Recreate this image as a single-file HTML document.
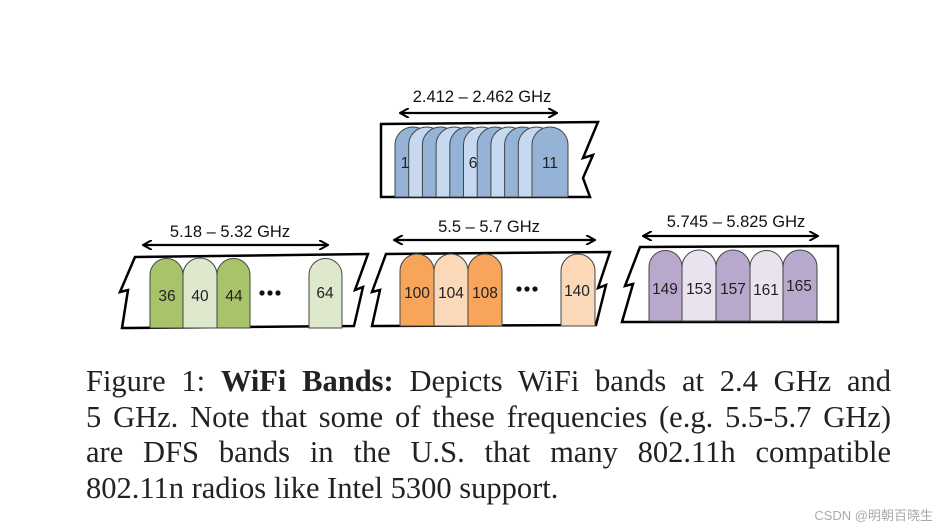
<!DOCTYPE html>
<html><head><meta charset="utf-8"><style>
body{margin:0;background:#fff;width:941px;height:530px;overflow:hidden;position:relative}
svg{position:absolute;left:0;top:0}
.cap{position:absolute;left:86px;top:364px;width:805px;font-family:"Liberation Serif",serif;font-size:30.5px;line-height:35.5px;color:#222}
.cap div{text-align:justify;text-align-last:justify;white-space:nowrap;height:35.5px}
.cap div.l{text-align-last:left}
.wm{position:absolute;right:8px;bottom:6px;font-family:"Liberation Sans","Noto Sans CJK SC",sans-serif;font-size:13px;color:#aaa}
</style></head><body>
<svg width="941" height="530" viewBox="0 0 941 530" font-family="Liberation Sans, sans-serif">
<defs><marker id="a" markerWidth="10" markerHeight="10" refX="8" refY="5" orient="auto-start-reverse" markerUnits="userSpaceOnUse"><path d="M0,0 L9,5 L0,10" fill="none" stroke="#000" stroke-width="2"/></marker></defs>
<g fill="none" stroke="#000" stroke-width="2.5" stroke-linejoin="miter">
<path d="M381,124 L598,122 L583,158 L593,155 L583,178 L590,197 L381,197 Z" fill="#fff"/>
<path d="M135,257 L368,254 L355,290 L363,287 L354,326 L122,328 L128,290 L120,292 Z" fill="#fff"/>
<path d="M386,254 L610,252 L598,288 L606,285 L596,325 L372,326 L380,290 L372,292 Z" fill="#fff"/>
<path d="M640,247 L838,246 L838,322 L622,322 L633,284 L625,286 Z" fill="#fff"/>
</g>
<g stroke="#444" stroke-width="1">
<path d="M395,197 V145 A18,18 0 0 1 431,145 V197Z" fill="#95b3d7"/>
<path d="M408.7,197 V145 A18,18 0 0 1 444.7,145 V197Z" fill="#c6d9f1"/>
<path d="M422.4,197 V145 A18,18 0 0 1 458.4,145 V197Z" fill="#95b3d7"/>
<path d="M436.1,197 V145 A18,18 0 0 1 472.1,145 V197Z" fill="#c6d9f1"/>
<path d="M449.8,197 V145 A18,18 0 0 1 485.8,145 V197Z" fill="#95b3d7"/>
<path d="M463.5,197 V145 A18,18 0 0 1 499.5,145 V197Z" fill="#c6d9f1"/>
<path d="M477.2,197 V145 A18,18 0 0 1 513.2,145 V197Z" fill="#95b3d7"/>
<path d="M490.9,197 V145 A18,18 0 0 1 526.9,145 V197Z" fill="#c6d9f1"/>
<path d="M504.6,197 V145 A18,18 0 0 1 540.6,145 V197Z" fill="#95b3d7"/>
<path d="M518.3,197 V145 A18,18 0 0 1 554.3,145 V197Z" fill="#c6d9f1"/>
<path d="M532,197 V145 A18,18 0 0 1 568,145 V197Z" fill="#95b3d7"/>

<path d="M150,328 V275 A16.5,16.5 0 0 1 183,275 V328Z" fill="#a9c36a"/>
<path d="M183,328 V275 A17,17 0 0 1 217,275 V328Z" fill="#dde8cc"/>
<path d="M217,328 V275 A16.5,16.5 0 0 1 250,275 V328Z" fill="#a9c36a"/>
<path d="M309,328 V275 A16.5,16.5 0 0 1 342,275 V328Z" fill="#dde8cc"/>

<path d="M400,326 V271 A17,17 0 0 1 434,271 V326Z" fill="#f7a55a"/>
<path d="M434,326 V271 A17,17 0 0 1 468,271 V326Z" fill="#fbd8b8"/>
<path d="M468,326 V271 A17,17 0 0 1 502,271 V326Z" fill="#f7a55a"/>
<path d="M561,326 V271 A17,17 0 0 1 595,271 V326Z" fill="#fbd8b8"/>

<path d="M649,321 V267 A16.5,16.5 0 0 1 682,267 V321Z" fill="#b8a9cc"/>
<path d="M682,321 V267 A17,17 0 0 1 716,267 V321Z" fill="#e8e3ee"/>
<path d="M716,321 V267 A17,17 0 0 1 750,267 V321Z" fill="#b8a9cc"/>
<path d="M750,321 V267 A16.5,16.5 0 0 1 783,267 V321Z" fill="#e8e3ee"/>
<path d="M783,321 V267 A17,17 0 0 1 817,267 V321Z" fill="#b8a9cc"/>
</g>
<g stroke="#000" stroke-width="2.2" marker-start="url(#a)" marker-end="url(#a)">
<line x1="401" y1="113" x2="556" y2="113"/>
<line x1="144" y1="245" x2="327" y2="245"/>
<line x1="395" y1="240" x2="594" y2="240"/>
<line x1="644" y1="236" x2="817" y2="236"/>
</g>
<g font-size="16.5" fill="#111" text-anchor="middle">
<text x="482" y="102">2.412 – 2.462 GHz</text>
<text x="230" y="237">5.18 – 5.32 GHz</text>
<text x="489" y="232">5.5 – 5.7 GHz</text>
<text x="736" y="227">5.745 – 5.825 GHz</text>
</g>
<g font-size="15.5" fill="#222" text-anchor="middle">
<text x="405" y="168">1</text><text x="473" y="168">6</text><text x="550" y="168">11</text>
<text x="167" y="301">36</text><text x="200" y="301">40</text><text x="234" y="301">44</text><text x="325" y="298">64</text>
<text x="417" y="298">100</text><text x="451" y="298">104</text><text x="485" y="298">108</text><text x="577" y="296">140</text>
<text x="665" y="294">149</text><text x="699" y="294">153</text><text x="733" y="294">157</text><text x="766" y="295">161</text><text x="799" y="291">165</text>
</g>
<g fill="#111"><circle cx="262" cy="293" r="2.6"/><circle cx="270" cy="293" r="2.6"/><circle cx="278" cy="293" r="2.6"/>
<circle cx="519" cy="289" r="2.6"/><circle cx="527" cy="289" r="2.6"/><circle cx="535" cy="289" r="2.6"/></g>
</svg>
<div class="cap">
<div>Figure 1: <b>WiFi Bands:</b> Depicts WiFi bands at 2.4 GHz and</div>
<div>5 GHz. Note that some of these frequencies (e.g. 5.5-5.7 GHz)</div>
<div>are DFS bands in the U.S. that many 802.11h compatible</div>
<div class="l">802.11n radios like Intel 5300 support.</div>
</div>
<div class="wm">CSDN @明朝百晓生</div>
</body></html>
